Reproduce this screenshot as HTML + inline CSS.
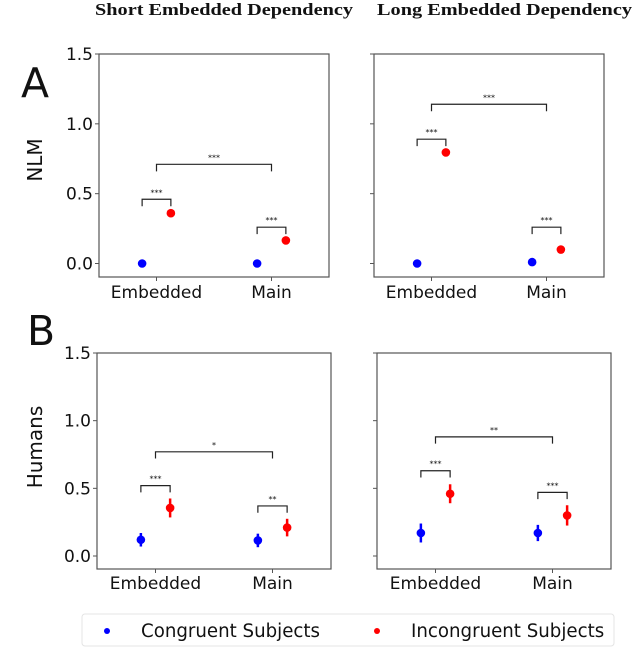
<!DOCTYPE html>
<html><head><meta charset="utf-8"><style>
body{margin:0;background:#fff;width:643px;height:667px;overflow:hidden}
text{font-family:"DejaVu Sans","Liberation Sans",sans-serif;fill:#111}
</style></head><body>
<svg id="fig" width="643" height="667" xmlns="http://www.w3.org/2000/svg">
<text x="95" y="15" textLength="258" lengthAdjust="spacingAndGlyphs" font-size="17" font-weight="bold" style="font-family:'Liberation Serif','DejaVu Serif',serif">Short  Embedded  Dependency</text>
<text x="377" y="15" textLength="255" lengthAdjust="spacingAndGlyphs" font-size="17" font-weight="bold" style="font-family:'Liberation Serif','DejaVu Serif',serif">Long  Embedded  Dependency</text>
<text x="21" y="97" font-size="41">A</text>
<text x="27" y="345" font-size="41">B</text>
<text transform="translate(42,160) rotate(-90)" text-anchor="middle" font-size="20">NLM</text>
<text transform="translate(42,447) rotate(-90)" text-anchor="middle" font-size="20">Humans</text>
<g>
<rect x="82" y="614" width="532" height="32" rx="3" fill="#fff" stroke="#e4e4e4"/>
<circle cx="107" cy="631" r="3" fill="#0000ff"/>
<text x="141" y="637" font-size="18.2">Congruent Subjects</text>
<circle cx="377" cy="631" r="3" fill="#ff0000"/>
<text x="411" y="637" font-size="18.2">Incongruent Subjects</text>
</g>
</svg>
<script>
const categories = ["Embedded","Main"];
const yTicks = [0.0,0.5,1.0,1.5];
const yTickLabels = ["0.0","0.5","1.0","1.5"];
const nlmShortCong = [0.0,0.0];
const nlmShortIncong = [0.36,0.165];
const nlmLongCong = [0.0,0.01];
const nlmLongIncong = [0.795,0.10];
const humShortCong = [0.12,0.115];
const humShortCongErr = [0.05,0.05];
const humShortIncong = [0.355,0.21];
const humShortIncongErr = [0.07,0.065];
const humLongCong = [0.17,0.17];
const humLongCongErr = [0.07,0.06];
const humLongIncong = [0.46,0.30];
const humLongIncongErr = [0.07,0.075];
const nlmShortBracketY = [0.46,0.26,0.71];
const nlmShortStars = ["***","***","***"];
const nlmLongBracketY = [0.89,0.26,1.14];
const nlmLongStars = ["***","***","***"];
const humShortBracketY = [0.52,0.37,0.77];
const humShortStars = ["***","**","*"];
const humLongBracketY = [0.63,0.47,0.88];
const humLongStars = ["***","***","**"];

const NS="http://www.w3.org/2000/svg";
const svg=document.getElementById('fig');
function mk(tag,attrs,parent){const e=document.createElementNS(NS,tag);for(const k in attrs)e.setAttribute(k,attrs[k]);(parent||svg).appendChild(e);return e;}

function panel(name,x0,x1,yTop,yZero,yBot,labelY,showLabels,cong,congErr,inc,incErr,brY,stars){
  const g=mk('g',{});
  
  
  const unit=(yZero-yTop)/1.5;
  const Y=v=>yZero-v*unit;
  const w=x1-x0;
  const X=i=>x0+w*(0.25+0.5*i);
  const off=w*0.0625;
  const frame=mk('rect',{x:x0,y:yTop,width:w,height:yBot-yTop,fill:'none',stroke:'#555','stroke-width':1.2},g);
  
  
  yTicks.forEach((t,i)=>{
    const tk=mk('line',{x1:x0-4,x2:x0,y1:Y(t),y2:Y(t),stroke:'#555'},g);
    
    
    if(showLabels){
      const lb=mk('text',{x:x0-6,y:Y(t)+6,'text-anchor':'end','font-size':17},g);
      lb.textContent=yTickLabels[i];
      
      
    }
  });
  categories.forEach((c,i)=>{
    const tk=mk('line',{x1:X(i),x2:X(i),y1:yBot,y2:yBot+4,stroke:'#555'},g);
    
    
    const lb=mk('text',{x:X(i),y:labelY,'text-anchor':'middle','font-size':17},g);
    lb.textContent=c;
    
    
    [[cong,congErr,-off,'#0000ff','congruent'],[inc,incErr,off,'#ff0000','incongruent']].forEach(s=>{
      const cx=X(i)+s[2];
      if(s[1]){
        const eb=mk('line',{x1:cx,x2:cx,y1:Y(s[0][i]-s[1][i]),y2:Y(s[0][i]+s[1][i]),stroke:s[3],'stroke-width':2.5},g);
        
        
      }
      const p=mk('circle',{cx:cx,cy:Y(s[0][i]),r:4.3,fill:s[3]},g);
      
      
    });
  });
  const tickLen=unit*0.05;
  function bracket(xa,xb,v,label){
    const y=Y(v);
    const b=mk('path',{d:`M${xa},${y+tickLen}V${y}H${xb}V${y+tickLen}`,fill:'none',stroke:'#222','stroke-width':1.2},g);
    
    
    const t=mk('text',{x:(xa+xb)/2,y:y-4,'text-anchor':'middle','font-size':8},g);
    t.textContent=label;
    
    
  }
  bracket(X(0)-off,X(0)+off,brY[0],stars[0]);
  bracket(X(1)-off,X(1)+off,brY[1],stars[1]);
  bracket(X(0),X(1),brY[2],stars[2]);
}
panel('panel-nlm-short',99,329,54,263.5,277,298,true,nlmShortCong,null,nlmShortIncong,null,nlmShortBracketY,nlmShortStars);
panel('panel-nlm-long',374,604,54,263.5,277,298,false,nlmLongCong,null,nlmLongIncong,null,nlmLongBracketY,nlmLongStars);
panel('panel-humans-short',97,331,353,556,569,589,true,humShortCong,humShortCongErr,humShortIncong,humShortIncongErr,humShortBracketY,humShortStars);
panel('panel-humans-long',377,611,353,556,569,589,false,humLongCong,humLongCongErr,humLongIncong,humLongIncongErr,humLongBracketY,humLongStars);
</script>
</body></html>
